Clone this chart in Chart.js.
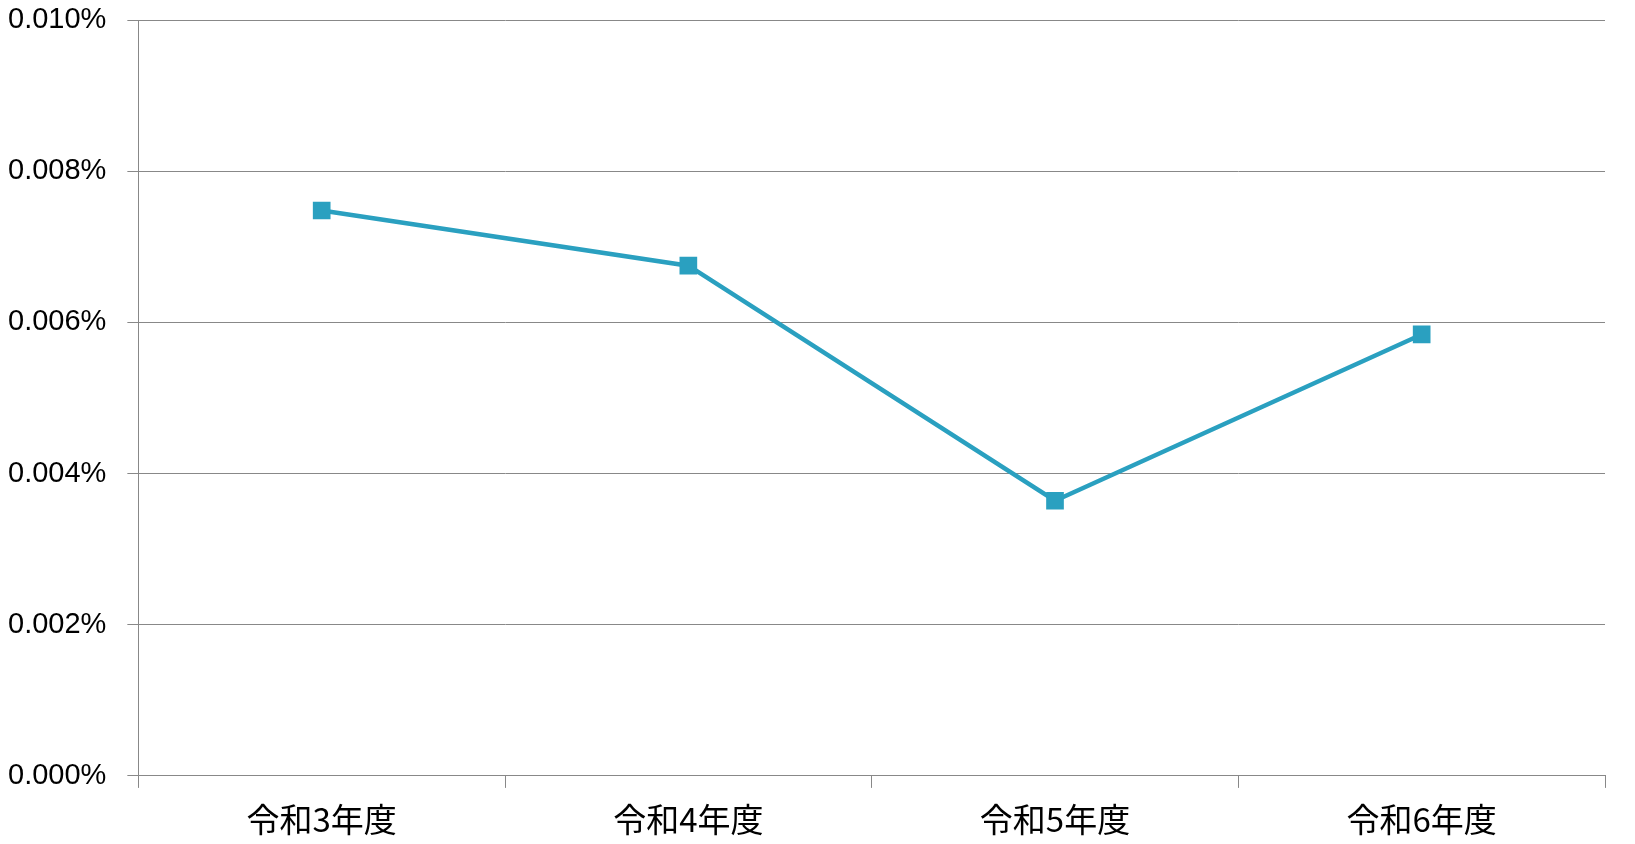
<!DOCTYPE html>
<html>
<head>
<meta charset="utf-8">
<script src="https://cdn.jsdelivr.net/npm/chart.js@4"></script>
<style>
  html, body { margin: 0; padding: 0; background: #fff; }
  #wrap { width: 1635px; height: 844px; }
</style>
</head>
<body>
<div id="wrap"><canvas id="chart"></canvas></div>
<script>
// categories and values (percent)
const categories = ['令和3年度', '令和4年度', '令和5年度', '令和6年度'];
const rateValues = [0.00748, 0.00675, 0.00364, 0.00584];
const yTicks = [0, 0.002, 0.004, 0.006, 0.008, 0.010];

const lineColor = 'rgb(42,160,192)';
const gridColor = '#888888';

const ctx = document.getElementById('chart').getContext('2d');
new Chart(ctx, {
    type: 'line',
    data: {
        labels: categories,
        datasets: [{
            label: '割合',
            data: rateValues,
            borderColor: lineColor,
            backgroundColor: lineColor,
            borderWidth: 4.5,
            pointStyle: 'rect',
            pointRadius: 12.5,
            pointBorderWidth: 0,
            pointBackgroundColor: lineColor,
            tension: 0
        }]
    },
    options: {
        responsive: true,
        maintainAspectRatio: false,
        animation: false,
        layout: { padding: { left: 8, right: 30, top: 0, bottom: -7.5 } },
        plugins: {
            legend: { display: false },
            tooltip: { enabled: false }
        },
        scales: {
            x: {
                offset: true,
                grid: {
                    offset: true,
                    drawOnChartArea: false,
                    drawTicks: true,
                    tickLength: 12,
                    color: gridColor
                },
                border: { color: gridColor, width: 1 },
                ticks: {
                    color: '#000',
                    padding: 12,
                    font: { family: '"Noto Sans CJK JP", sans-serif', size: 33 }
                }
            },
            y: {
                min: 0,
                max: 0.010,
                afterBuildTicks: axis => { axis.ticks = yTicks.map(v => ({ value: v })); },
                afterFit: axis => { axis.paddingTop = 20; },
                grid: {
                    color: gridColor,
                    tickLength: 11
                },
                border: { color: gridColor, width: 1 },
                ticks: {
                    color: '#000',
                    padding: 10.5,
                    crossAlign: 'far',
                    font: { family: '"Liberation Sans", Arial, sans-serif', size: 29 },
                    callback: v => v.toFixed(3) + '%'
                }
            }
        }
    }
});
</script>
</body>
</html>
